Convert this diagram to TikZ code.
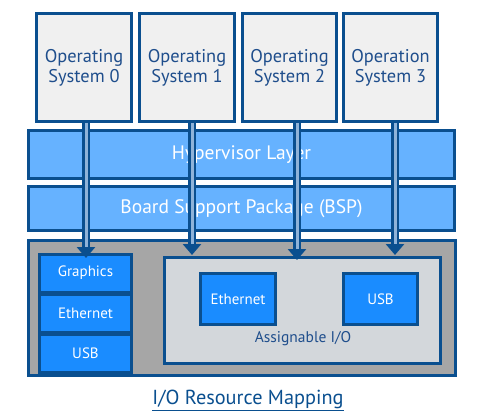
\documentclass[tikz,border=0pt]{standalone}
\usepackage{fontspec}
\setmainfont{PT Sans}
\usetikzlibrary{arrows.meta,calc}
\definecolor{dblue}{HTML}{0A4F8F}
\definecolor{osfill}{HTML}{F0F0F0}
\definecolor{ostext}{HTML}{1F4E8C}
\definecolor{layerfill}{HTML}{66B2FF}
\definecolor{grayfill}{HTML}{A6A6A6}
\definecolor{assignfill}{HTML}{D3D7DB}
\definecolor{cellfill}{HTML}{1A8CFF}
\definecolor{arrowin}{HTML}{8FB3D9}
\begin{document}
\begin{tikzpicture}[x=1pt,y=-1pt,
  osbox/.style={draw=dblue,line width=3pt,fill=osfill,text=ostext,align=center,inner sep=0pt,
    minimum height=108pt,font=\fontsize{18.4}{20}\selectfont},
  layer/.style={draw=dblue,line width=3pt,fill=layerfill,text=white,inner sep=0pt,
    minimum width=426pt,font=\fontsize{19.5}{22}\selectfont},
  cellbox/.style={draw=dblue,line width=3pt,fill=cellfill,text=white,inner sep=0pt,
    font=\fontsize{15}{18}\selectfont},
  arrout/.style={draw=dblue,line width=8pt,-{Triangle[width=18pt,length=11pt]}},
  arrin/.style={draw=arrowin,line width=3pt}]
\useasboundingbox (0,0) rectangle (490,417);
% OS boxes
\node[osbox,minimum width=95pt] (os0) at (84,67.5) {Operating\\System 0};
\node[osbox,minimum width=95pt] (os1) at (187,67.5) {Operating\\System 1};
\node[osbox,minimum width=94pt] (os2) at (289.5,67.5) {Operating\\System 2};
\node[osbox,minimum width=94pt] (os3) at (390.5,67.5) {Operation\\System 3};
% layers
\node[layer,minimum height=48pt] (hyp) at (241.5,154.5) {Hypervisor Layer};
\node[layer,minimum height=44pt] (bsp) at (241.5,208.5) {Board Support Package (BSP)};
% bottom
\node[draw=dblue,line width=3pt,fill=grayfill,minimum width=427pt,minimum height=135pt,inner sep=0pt] (io) at (242,308) {};
\node[cellbox,minimum width=92pt,minimum height=38pt] (gfx) at (85.5,273) {Graphics};
\node[cellbox,minimum width=92pt,minimum height=38pt] (eth0) at (85.5,313) {Ethernet};
\node[cellbox,minimum width=92pt,minimum height=38pt] (usb0) at (85.5,353) {USB};
\node[draw=dblue,line width=3pt,fill=assignfill,minimum width=276pt,minimum height=106pt,inner sep=0pt] (asg) at (302.5,310.5) {};
\node[cellbox,minimum width=75pt,minimum height=51pt] (eth1) at (238,299) {Ethernet};
\node[cellbox,minimum width=74pt,minimum height=51pt] (usb1) at (380.5,299) {USB};
\node[text=ostext,font=\fontsize{15.5}{18}\selectfont] (asgl) at (303,339) {Assignable I/O};
% arrows
\coordinate (t0) at (86,258);
\coordinate (t1) at (192,255);
\coordinate (t2) at (297,260);
\coordinate (t3) at (395,255);
\foreach \i/\o in {0/os0,1/os1,2/os2,3/os3}{
  \draw[arrout] (\o.south -| t\i) -- (t\i);
  \draw[arrin] (\o.south -| t\i) -- ($(t\i)+(0,-11)$);
}
% caption
\node[text=dblue,font=\fontsize{20.3}{24}\selectfont] (cap) at (248,400) {\underline{I/O Resource Mapping}};
\end{tikzpicture}
\end{document}
